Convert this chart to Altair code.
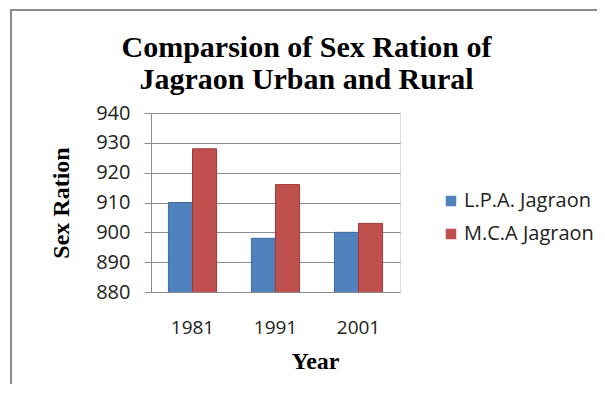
import altair as alt
import pandas as pd

years = ["1981", "1991", "2001"]
series = ["L.P.A. Jagraon", "M.C.A Jagraon"]
lpa = [910, 898, 900]
mca = [928, 916, 903]

rows = []
for i, y in enumerate(years):
    rows.append({"Year": y, "Series": series[0], "Value": lpa[i]})
    rows.append({"Year": y, "Series": series[1], "Value": mca[i]})
df = pd.DataFrame(rows)

SERIF = "Liberation Serif"
SANS = "Open Sans"

bars = alt.Chart(df).mark_bar(strokeWidth=1, clip=True).encode(
    x=alt.X("Year:N", sort=years,
            scale=alt.Scale(paddingInner=0.42, paddingOuter=0.21),
            axis=alt.Axis(title="Year", labelAngle=0, ticks=False, domain=False,
                          labelFont=SANS, labelFontSize=19, labelColor="#222",
                          labelPadding=26,
                          titleFont=SERIF, titleFontSize=24, titleFontWeight="bold",
                          titleColor="#000", titleX=164, titleY=76,
                          titleBaseline="alphabetic", titleAnchor="start",
                          titleAlign="center")),
    xOffset=alt.XOffset("Series:N", sort=series),
    y=alt.Y("Value:Q", scale=alt.Scale(domain=[880, 940], zero=False, nice=False),
            axis=alt.Axis(title="Sex Ration", values=[880, 890, 900, 910, 920, 930, 940],
                          grid=True, gridColor="#8c8c8c", gridWidth=1,
                          domain=True, domainColor="#8c8c8c", tickColor="#8c8c8c",
                          tickSize=7, labelPadding=14,
                          labelFont=SANS, labelFontSize=20, labelColor="#222",
                          titleFont=SERIF, titleFontSize=24, titleFontWeight="bold",
                          titleColor="#000", titlePadding=22)),
    color=alt.Color("Series:N", sort=series,
                    scale=alt.Scale(domain=series, range=["#4F81BD", "#C0504D"]),
                    legend=alt.Legend(title=None, orient="none", legendX=290, legendY=78,
                                      symbolType="square", symbolSize=110,
                                      symbolStrokeWidth=0,
                                      labelFont=SANS, labelFontSize=20, labelColor="#222",
                                      rowPadding=13, labelOffset=3)),
    stroke=alt.Stroke("Series:N", sort=series,
                      scale=alt.Scale(domain=series, range=["#3E6A9E", "#9B3B38"]),
                      legend=None),
)

frame = alt.Chart(pd.DataFrame({"a": [0]})).mark_rect(
    fill=None, stroke="#8c8c8c", strokeWidth=2
).encode(
    x=alt.value(-140), x2=alt.value(600), y=alt.value(-103), y2=alt.value(400)
)

chart = alt.layer(frame, bars).properties(
    width=249, height=179,
    title=alt.TitleParams(
        text=["Comparsion of Sex Ration of", "Jagraon Urban and Rural"],
        font=SERIF, fontSize=30, fontWeight="bold", color="#000",
        anchor="middle", frame="group", dx=31, offset=0, dy=86, lineHeight=32
    ),
    autosize=alt.AutoSizeParams(type="none"),
    padding={"left": 143, "top": 105, "right": 197, "bottom": 92},
).configure_view(
    stroke=None, fill="#e6e6e6"
).configure(background="white")

chart.save("out.html", embed_options={"renderer": "svg", "actions": False})
